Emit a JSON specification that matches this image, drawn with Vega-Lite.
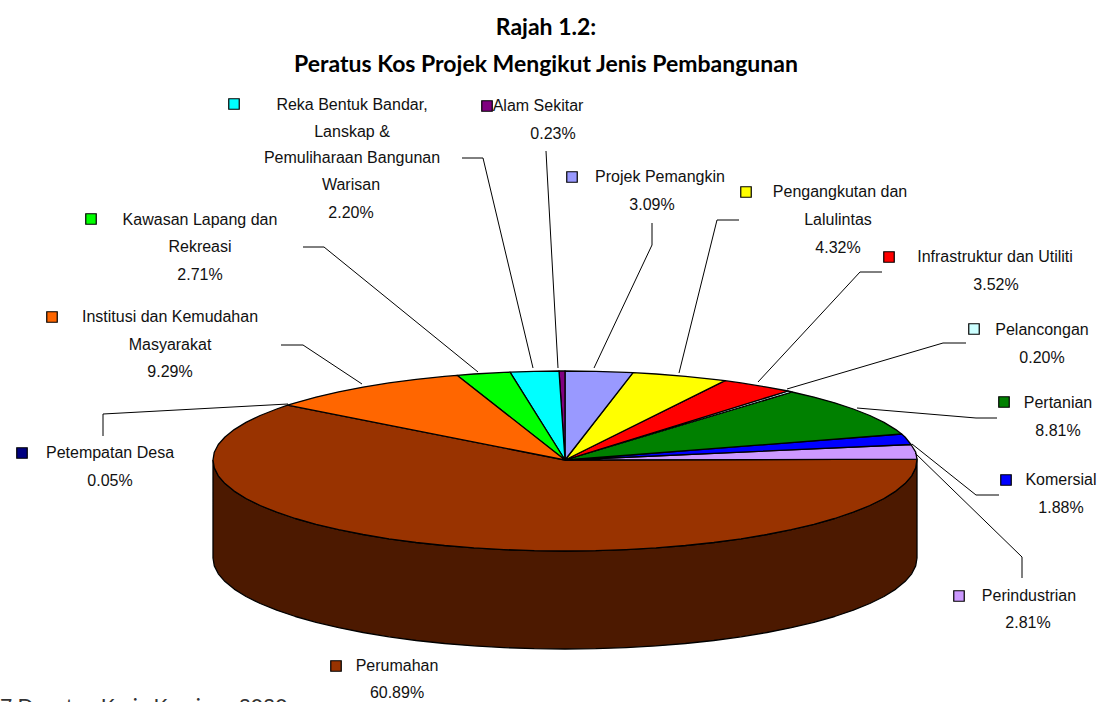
{"$schema":"https://vega.github.io/schema/vega-lite/v6.json","width":1108,"height":702,"padding":0,"autosize":{"type":"none"},"background":"white","view":{"stroke":null},
"datasets":{
"outline":[
{"slice":"Perumahan (sisi)","seq":0,"x":213,"y":460},{"slice":"Perumahan (sisi)","seq":1,"x":214.3,"y":467.9},{"slice":"Perumahan (sisi)","seq":2,"x":218.3,"y":475.8},{"slice":"Perumahan (sisi)","seq":3,"x":225,"y":483.6},{"slice":"Perumahan (sisi)","seq":4,"x":234.2,"y":491.1},{"slice":"Perumahan (sisi)","seq":5,"x":246,"y":498.5},{"slice":"Perumahan (sisi)","seq":6,"x":260.2,"y":505.5},{"slice":"Perumahan (sisi)","seq":7,"x":276.7,"y":512.2},{"slice":"Perumahan (sisi)","seq":8,"x":295.4,"y":518.5},{"slice":"Perumahan (sisi)","seq":9,"x":316.1,"y":524.3},{"slice":"Perumahan (sisi)","seq":10,"x":338.7,"y":529.7},{"slice":"Perumahan (sisi)","seq":11,"x":363.1,"y":534.5},{"slice":"Perumahan (sisi)","seq":12,"x":389,"y":538.8},{"slice":"Perumahan (sisi)","seq":13,"x":416.2,"y":542.5},{"slice":"Perumahan (sisi)","seq":14,"x":444.6,"y":545.5},{"slice":"Perumahan (sisi)","seq":15,"x":473.9,"y":547.9},{"slice":"Perumahan (sisi)","seq":16,"x":503.9,"y":549.6},{"slice":"Perumahan (sisi)","seq":17,"x":534.3,"y":550.7},{"slice":"Perumahan (sisi)","seq":18,"x":565,"y":551},{"slice":"Perumahan (sisi)","seq":19,"x":595.7,"y":550.7},{"slice":"Perumahan (sisi)","seq":20,"x":626.1,"y":549.6},{"slice":"Perumahan (sisi)","seq":21,"x":656.1,"y":547.9},{"slice":"Perumahan (sisi)","seq":22,"x":685.4,"y":545.5},{"slice":"Perumahan (sisi)","seq":23,"x":713.8,"y":542.5},{"slice":"Perumahan (sisi)","seq":24,"x":741,"y":538.8},{"slice":"Perumahan (sisi)","seq":25,"x":766.9,"y":534.5},{"slice":"Perumahan (sisi)","seq":26,"x":791.3,"y":529.7},{"slice":"Perumahan (sisi)","seq":27,"x":813.9,"y":524.3},{"slice":"Perumahan (sisi)","seq":28,"x":834.6,"y":518.5},{"slice":"Perumahan (sisi)","seq":29,"x":853.3,"y":512.2},{"slice":"Perumahan (sisi)","seq":30,"x":869.8,"y":505.5},{"slice":"Perumahan (sisi)","seq":31,"x":884,"y":498.5},{"slice":"Perumahan (sisi)","seq":32,"x":895.8,"y":491.1},{"slice":"Perumahan (sisi)","seq":33,"x":905,"y":483.6},{"slice":"Perumahan (sisi)","seq":34,"x":911.7,"y":475.8},{"slice":"Perumahan (sisi)","seq":35,"x":915.7,"y":467.9},{"slice":"Perumahan (sisi)","seq":36,"x":917,"y":460},
{"slice":"Perumahan (sisi)","seq":37,"x":917,"y":558},{"slice":"Perumahan (sisi)","seq":38,"x":915.7,"y":565.9},{"slice":"Perumahan (sisi)","seq":39,"x":911.7,"y":573.8},{"slice":"Perumahan (sisi)","seq":40,"x":905,"y":581.6},{"slice":"Perumahan (sisi)","seq":41,"x":895.8,"y":589.1},{"slice":"Perumahan (sisi)","seq":42,"x":884,"y":596.5},{"slice":"Perumahan (sisi)","seq":43,"x":869.8,"y":603.5},{"slice":"Perumahan (sisi)","seq":44,"x":853.3,"y":610.2},{"slice":"Perumahan (sisi)","seq":45,"x":834.6,"y":616.5},{"slice":"Perumahan (sisi)","seq":46,"x":813.9,"y":622.3},{"slice":"Perumahan (sisi)","seq":47,"x":791.3,"y":627.7},{"slice":"Perumahan (sisi)","seq":48,"x":766.9,"y":632.5},{"slice":"Perumahan (sisi)","seq":49,"x":741,"y":636.8},{"slice":"Perumahan (sisi)","seq":50,"x":713.8,"y":640.5},{"slice":"Perumahan (sisi)","seq":51,"x":685.4,"y":643.5},{"slice":"Perumahan (sisi)","seq":52,"x":656.1,"y":645.9},{"slice":"Perumahan (sisi)","seq":53,"x":626.1,"y":647.6},{"slice":"Perumahan (sisi)","seq":54,"x":595.7,"y":648.7},{"slice":"Perumahan (sisi)","seq":55,"x":565,"y":649},{"slice":"Perumahan (sisi)","seq":56,"x":534.3,"y":648.7},{"slice":"Perumahan (sisi)","seq":57,"x":503.9,"y":647.6},{"slice":"Perumahan (sisi)","seq":58,"x":473.9,"y":645.9},{"slice":"Perumahan (sisi)","seq":59,"x":444.6,"y":643.5},{"slice":"Perumahan (sisi)","seq":60,"x":416.2,"y":640.5},{"slice":"Perumahan (sisi)","seq":61,"x":389,"y":636.8},{"slice":"Perumahan (sisi)","seq":62,"x":363.1,"y":632.5},{"slice":"Perumahan (sisi)","seq":63,"x":338.7,"y":627.7},{"slice":"Perumahan (sisi)","seq":64,"x":316.1,"y":622.3},{"slice":"Perumahan (sisi)","seq":65,"x":295.4,"y":616.5},{"slice":"Perumahan (sisi)","seq":66,"x":276.7,"y":610.2},{"slice":"Perumahan (sisi)","seq":67,"x":260.2,"y":603.5},{"slice":"Perumahan (sisi)","seq":68,"x":246,"y":596.5},{"slice":"Perumahan (sisi)","seq":69,"x":234.2,"y":589.1},{"slice":"Perumahan (sisi)","seq":70,"x":225,"y":581.6},{"slice":"Perumahan (sisi)","seq":71,"x":218.3,"y":573.8},{"slice":"Perumahan (sisi)","seq":72,"x":214.3,"y":565.9},{"slice":"Perumahan (sisi)","seq":73,"x":213,"y":558},{"slice":"Perumahan (sisi)","seq":74,"x":213,"y":460},
{"slice":"Perumahan","seq":0,"x":565,"y":460},{"slice":"Perumahan","seq":1,"x":287.6,"y":405.2},{"slice":"Perumahan","seq":2,"x":276.7,"y":409},{"slice":"Perumahan","seq":3,"x":260.2,"y":415.5},{"slice":"Perumahan","seq":4,"x":246,"y":422.4},{"slice":"Perumahan","seq":5,"x":234.2,"y":429.6},{"slice":"Perumahan","seq":6,"x":225,"y":437},{"slice":"Perumahan","seq":7,"x":218.3,"y":444.5},{"slice":"Perumahan","seq":8,"x":214.3,"y":452.2},{"slice":"Perumahan","seq":9,"x":213,"y":460},{"slice":"Perumahan","seq":10,"x":214.3,"y":467.9},{"slice":"Perumahan","seq":11,"x":218.3,"y":475.8},{"slice":"Perumahan","seq":12,"x":225,"y":483.6},{"slice":"Perumahan","seq":13,"x":234.2,"y":491.1},{"slice":"Perumahan","seq":14,"x":246,"y":498.5},{"slice":"Perumahan","seq":15,"x":260.2,"y":505.5},{"slice":"Perumahan","seq":16,"x":276.7,"y":512.2},{"slice":"Perumahan","seq":17,"x":295.4,"y":518.5},{"slice":"Perumahan","seq":18,"x":316.1,"y":524.3},{"slice":"Perumahan","seq":19,"x":338.7,"y":529.7},{"slice":"Perumahan","seq":20,"x":363.1,"y":534.5},{"slice":"Perumahan","seq":21,"x":389,"y":538.8},{"slice":"Perumahan","seq":22,"x":416.2,"y":542.5},{"slice":"Perumahan","seq":23,"x":444.6,"y":545.5},{"slice":"Perumahan","seq":24,"x":473.9,"y":547.9},{"slice":"Perumahan","seq":25,"x":503.9,"y":549.6},{"slice":"Perumahan","seq":26,"x":534.3,"y":550.7},{"slice":"Perumahan","seq":27,"x":565,"y":551},{"slice":"Perumahan","seq":28,"x":595.7,"y":550.7},{"slice":"Perumahan","seq":29,"x":626.1,"y":549.6},{"slice":"Perumahan","seq":30,"x":656.1,"y":547.9},{"slice":"Perumahan","seq":31,"x":685.4,"y":545.5},{"slice":"Perumahan","seq":32,"x":713.8,"y":542.5},{"slice":"Perumahan","seq":33,"x":741,"y":538.8},{"slice":"Perumahan","seq":34,"x":766.9,"y":534.5},{"slice":"Perumahan","seq":35,"x":791.3,"y":529.7},{"slice":"Perumahan","seq":36,"x":813.9,"y":524.3},{"slice":"Perumahan","seq":37,"x":834.6,"y":518.5},{"slice":"Perumahan","seq":38,"x":853.3,"y":512.2},{"slice":"Perumahan","seq":39,"x":869.8,"y":505.5},{"slice":"Perumahan","seq":40,"x":884,"y":498.5},{"slice":"Perumahan","seq":41,"x":895.8,"y":491.1},{"slice":"Perumahan","seq":42,"x":905,"y":483.6},{"slice":"Perumahan","seq":43,"x":911.7,"y":475.8},{"slice":"Perumahan","seq":44,"x":915.7,"y":467.9},{"slice":"Perumahan","seq":45,"x":917,"y":459.2},{"slice":"Perumahan","seq":46,"x":565,"y":460},
{"slice":"Perindustrian","seq":0,"x":565,"y":460},{"slice":"Perindustrian","seq":1,"x":917,"y":459.2},{"slice":"Perindustrian","seq":2,"x":915.7,"y":452.2},{"slice":"Perindustrian","seq":3,"x":911,"y":444.5},{"slice":"Perindustrian","seq":4,"x":565,"y":460},
{"slice":"Komersial","seq":0,"x":565,"y":460},{"slice":"Komersial","seq":1,"x":911,"y":444.5},{"slice":"Komersial","seq":2,"x":905,"y":437},{"slice":"Komersial","seq":3,"x":901.6,"y":434},{"slice":"Komersial","seq":4,"x":565,"y":460},
{"slice":"Pertanian","seq":0,"x":565,"y":460},{"slice":"Pertanian","seq":1,"x":901.6,"y":434},{"slice":"Pertanian","seq":2,"x":895.8,"y":429.6},{"slice":"Pertanian","seq":3,"x":884,"y":422.4},{"slice":"Pertanian","seq":4,"x":869.8,"y":415.5},{"slice":"Pertanian","seq":5,"x":853.3,"y":409},{"slice":"Pertanian","seq":6,"x":834.6,"y":402.8},{"slice":"Pertanian","seq":7,"x":813.9,"y":397.1},{"slice":"Pertanian","seq":8,"x":792,"y":392},{"slice":"Pertanian","seq":9,"x":565,"y":460},
{"slice":"Pelancongan","seq":0,"x":565,"y":460},{"slice":"Pelancongan","seq":1,"x":792,"y":392},{"slice":"Pelancongan","seq":2,"x":788,"y":391},{"slice":"Pelancongan","seq":3,"x":565,"y":460},
{"slice":"Infrastruktur dan Utiliti","seq":0,"x":565,"y":460},{"slice":"Infrastruktur dan Utiliti","seq":1,"x":788,"y":391},{"slice":"Infrastruktur dan Utiliti","seq":2,"x":766.9,"y":387.1},{"slice":"Infrastruktur dan Utiliti","seq":3,"x":741,"y":382.9},{"slice":"Infrastruktur dan Utiliti","seq":4,"x":725,"y":380.7},{"slice":"Infrastruktur dan Utiliti","seq":5,"x":565,"y":460},
{"slice":"Pengangkutan dan Lalulintas","seq":0,"x":565,"y":460},{"slice":"Pengangkutan dan Lalulintas","seq":1,"x":725,"y":380.7},{"slice":"Pengangkutan dan Lalulintas","seq":2,"x":713.8,"y":379.3},{"slice":"Pengangkutan dan Lalulintas","seq":3,"x":685.4,"y":376.4},{"slice":"Pengangkutan dan Lalulintas","seq":4,"x":656.1,"y":374},{"slice":"Pengangkutan dan Lalulintas","seq":5,"x":633,"y":372.7},{"slice":"Pengangkutan dan Lalulintas","seq":6,"x":565,"y":460},
{"slice":"Projek Pemangkin","seq":0,"x":565,"y":460},{"slice":"Projek Pemangkin","seq":1,"x":633,"y":372.7},{"slice":"Projek Pemangkin","seq":2,"x":626.1,"y":372.4},{"slice":"Projek Pemangkin","seq":3,"x":595.7,"y":371.3},{"slice":"Projek Pemangkin","seq":4,"x":565,"y":371},{"slice":"Projek Pemangkin","seq":5,"x":565,"y":460},
{"slice":"Alam Sekitar","seq":0,"x":565,"y":460},{"slice":"Alam Sekitar","seq":1,"x":565,"y":371},{"slice":"Alam Sekitar","seq":2,"x":559,"y":371},{"slice":"Alam Sekitar","seq":3,"x":565,"y":460},
{"slice":"Reka Bentuk Bandar","seq":0,"x":565,"y":460},{"slice":"Reka Bentuk Bandar","seq":1,"x":559,"y":371},{"slice":"Reka Bentuk Bandar","seq":2,"x":534.3,"y":371.3},{"slice":"Reka Bentuk Bandar","seq":3,"x":510,"y":372.1},{"slice":"Reka Bentuk Bandar","seq":4,"x":565,"y":460},
{"slice":"Kawasan Lapang dan Rekreasi","seq":0,"x":565,"y":460},{"slice":"Kawasan Lapang dan Rekreasi","seq":1,"x":510,"y":372.1},{"slice":"Kawasan Lapang dan Rekreasi","seq":2,"x":503.9,"y":372.4},{"slice":"Kawasan Lapang dan Rekreasi","seq":3,"x":473.9,"y":374},{"slice":"Kawasan Lapang dan Rekreasi","seq":4,"x":457,"y":375.3},{"slice":"Kawasan Lapang dan Rekreasi","seq":5,"x":565,"y":460},
{"slice":"Institusi dan Kemudahan Masyarakat","seq":0,"x":565,"y":460},{"slice":"Institusi dan Kemudahan Masyarakat","seq":1,"x":457,"y":375.3},{"slice":"Institusi dan Kemudahan Masyarakat","seq":2,"x":444.6,"y":376.4},{"slice":"Institusi dan Kemudahan Masyarakat","seq":3,"x":416.2,"y":379.3},{"slice":"Institusi dan Kemudahan Masyarakat","seq":4,"x":389,"y":382.9},{"slice":"Institusi dan Kemudahan Masyarakat","seq":5,"x":363.1,"y":387.1},{"slice":"Institusi dan Kemudahan Masyarakat","seq":6,"x":338.7,"y":391.8},{"slice":"Institusi dan Kemudahan Masyarakat","seq":7,"x":316.1,"y":397.1},{"slice":"Institusi dan Kemudahan Masyarakat","seq":8,"x":295.4,"y":402.8},{"slice":"Institusi dan Kemudahan Masyarakat","seq":9,"x":287.6,"y":405.2},{"slice":"Institusi dan Kemudahan Masyarakat","seq":10,"x":565,"y":460}
],
"leaders":[
{"slice":"Reka","seq":0,"x":462,"y":158},{"slice":"Reka","seq":1,"x":483,"y":158},{"slice":"Reka","seq":2,"x":533,"y":368},
{"slice":"Alam","seq":0,"x":546,"y":151},{"slice":"Alam","seq":1,"x":547,"y":170},{"slice":"Alam","seq":2,"x":558,"y":368},
{"slice":"Projek","seq":0,"x":652,"y":223},{"slice":"Projek","seq":1,"x":652,"y":245},{"slice":"Projek","seq":2,"x":594,"y":368},
{"slice":"Peng","seq":0,"x":739,"y":220},{"slice":"Peng","seq":1,"x":717,"y":220},{"slice":"Peng","seq":2,"x":679,"y":373},
{"slice":"Infra","seq":0,"x":882,"y":272},{"slice":"Infra","seq":1,"x":860,"y":272},{"slice":"Infra","seq":2,"x":758,"y":382},
{"slice":"Pelan","seq":0,"x":966,"y":343},{"slice":"Pelan","seq":1,"x":943,"y":343},{"slice":"Pelan","seq":2,"x":787,"y":389},
{"slice":"Pertanian","seq":0,"x":997,"y":418},{"slice":"Pertanian","seq":1,"x":976,"y":418},{"slice":"Pertanian","seq":2,"x":857,"y":408},
{"slice":"Komersial","seq":0,"x":999,"y":495},{"slice":"Komersial","seq":1,"x":976,"y":495},{"slice":"Komersial","seq":2,"x":912,"y":444},
{"slice":"Perindustrian","seq":0,"x":1022,"y":578},{"slice":"Perindustrian","seq":1,"x":1022,"y":557},{"slice":"Perindustrian","seq":2,"x":915,"y":453},
{"slice":"Kawasan","seq":0,"x":303,"y":247},{"slice":"Kawasan","seq":1,"x":324,"y":247},{"slice":"Kawasan","seq":2,"x":478,"y":372},
{"slice":"Institusi","seq":0,"x":281,"y":345},{"slice":"Institusi","seq":1,"x":303,"y":345},{"slice":"Institusi","seq":2,"x":362,"y":384},
{"slice":"Petempatan","seq":0,"x":103,"y":436},{"slice":"Petempatan","seq":1,"x":103,"y":414},{"slice":"Petempatan","seq":2,"x":288,"y":404}
],
"keys":[
{"slice":"Reka Bentuk Bandar","x":234,"y":104},{"slice":"Alam Sekitar","x":487,"y":106},{"slice":"Projek Pemangkin","x":572,"y":177},{"slice":"Pengangkutan dan Lalulintas","x":746,"y":192},{"slice":"Infrastruktur dan Utiliti","x":889,"y":257},{"slice":"Pelancongan","x":974,"y":329},{"slice":"Pertanian","x":1004,"y":402},{"slice":"Komersial","x":1006,"y":480},{"slice":"Perindustrian","x":959,"y":596},{"slice":"Perumahan","x":336,"y":666},{"slice":"Petempatan Desa","x":22,"y":453},{"slice":"Institusi dan Kemudahan Masyarakat","x":52,"y":317},{"slice":"Kawasan Lapang dan Rekreasi","x":91,"y":219}
],
"labels":[
{"text":"Reka Bentuk Bandar,","x":352,"y":105},{"text":"Lanskap &","x":352,"y":132},{"text":"Pemuliharaan Bangunan","x":352,"y":158},{"text":"Warisan","x":351,"y":185},{"text":"2.20%","x":351,"y":213},
{"text":"Alam Sekitar","x":538,"y":106},{"text":"0.23%","x":553,"y":134},
{"text":"Projek Pemangkin","x":660,"y":177},{"text":"3.09%","x":652,"y":205},
{"text":"Pengangkutan dan","x":840,"y":192},{"text":"Lalulintas","x":838,"y":220},{"text":"4.32%","x":838,"y":248},
{"text":"Infrastruktur dan Utiliti","x":995,"y":257},{"text":"3.52%","x":996,"y":285},
{"text":"Pelancongan","x":1042,"y":330},{"text":"0.20%","x":1042,"y":358},
{"text":"Pertanian","x":1058,"y":403},{"text":"8.81%","x":1058,"y":431},
{"text":"Komersial","x":1061,"y":480},{"text":"1.88%","x":1061,"y":508},
{"text":"Perindustrian","x":1029,"y":596},{"text":"2.81%","x":1028,"y":623},
{"text":"Perumahan","x":397,"y":666},{"text":"60.89%","x":397,"y":693},
{"text":"Petempatan Desa","x":110,"y":453},{"text":"0.05%","x":110,"y":481},
{"text":"Institusi dan Kemudahan","x":170,"y":317},{"text":"Masyarakat","x":170,"y":345},{"text":"9.29%","x":170,"y":372},
{"text":"Kawasan Lapang dan","x":200,"y":220},{"text":"Rekreasi","x":200,"y":247},{"text":"2.71%","x":200,"y":275}
],
"titles":[{"text":"Rajah 1.2:","x":546,"y":28},{"text":"Peratus Kos Projek Mengikut Jenis Pembangunan","x":546,"y":65}],
"foot":[{"text":"7 Dapatan Kerja Kerajaan 2020","x":0,"y":714}]
},
"encoding":{
"x":{"field":"x","type":"quantitative","axis":null,"scale":{"domain":[0,1108],"nice":false,"zero":false}},
"y":{"field":"y","type":"quantitative","axis":null,"scale":{"domain":[702,0],"nice":false,"zero":false}}
},
"layer":[
{"data":{"name":"outline"},"mark":{"type":"line","stroke":"black","strokeWidth":1.3,"strokeJoin":"round","clip":false},
"encoding":{"order":{"field":"seq","type":"quantitative"},"detail":{"field":"slice","type":"nominal"},
"fill":{"field":"slice","type":"nominal","legend":null,"scale":{"domain":["Perumahan (sisi)","Perumahan","Perindustrian","Komersial","Pertanian","Pelancongan","Infrastruktur dan Utiliti","Pengangkutan dan Lalulintas","Projek Pemangkin","Alam Sekitar","Reka Bentuk Bandar","Kawasan Lapang dan Rekreasi","Institusi dan Kemudahan Masyarakat","Petempatan Desa"],"range":["#4C1900","#993300","#CC99FF","#0000FF","#008000","#CCFFFF","#FF0000","#FFFF00","#9999FF","#800080","#00FFFF","#00FF00","#FF6600","#000080"]}}}},
{"data":{"name":"leaders"},"mark":{"type":"line","color":"black","strokeWidth":1,"clip":false},
"encoding":{"order":{"field":"seq","type":"quantitative"},"detail":{"field":"slice","type":"nominal"}}},
{"data":{"name":"keys"},"mark":{"type":"square","size":110,"stroke":"black","strokeWidth":1.2,"opacity":1,"filled":true},
"encoding":{"fill":{"field":"slice","type":"nominal","legend":null},"stroke":{"value":"black"}}},
{"data":{"name":"labels"},"mark":{"type":"text","font":"Liberation Sans","fontSize":16,"align":"center","baseline":"middle","fill":"#111111"},
"encoding":{"text":{"field":"text","type":"nominal"}}},
{"data":{"name":"titles"},"mark":{"type":"text","font":"Lato","fontWeight":"bold","fontSize":23,"align":"center","baseline":"middle","fill":"black"},
"encoding":{"text":{"field":"text","type":"nominal"}}},
{"data":{"name":"foot"},"mark":{"type":"text","font":"Lato","fontSize":21,"align":"left","baseline":"alphabetic","fill":"#333333","clip":false},
"encoding":{"text":{"field":"text","type":"nominal"}}}
]}
